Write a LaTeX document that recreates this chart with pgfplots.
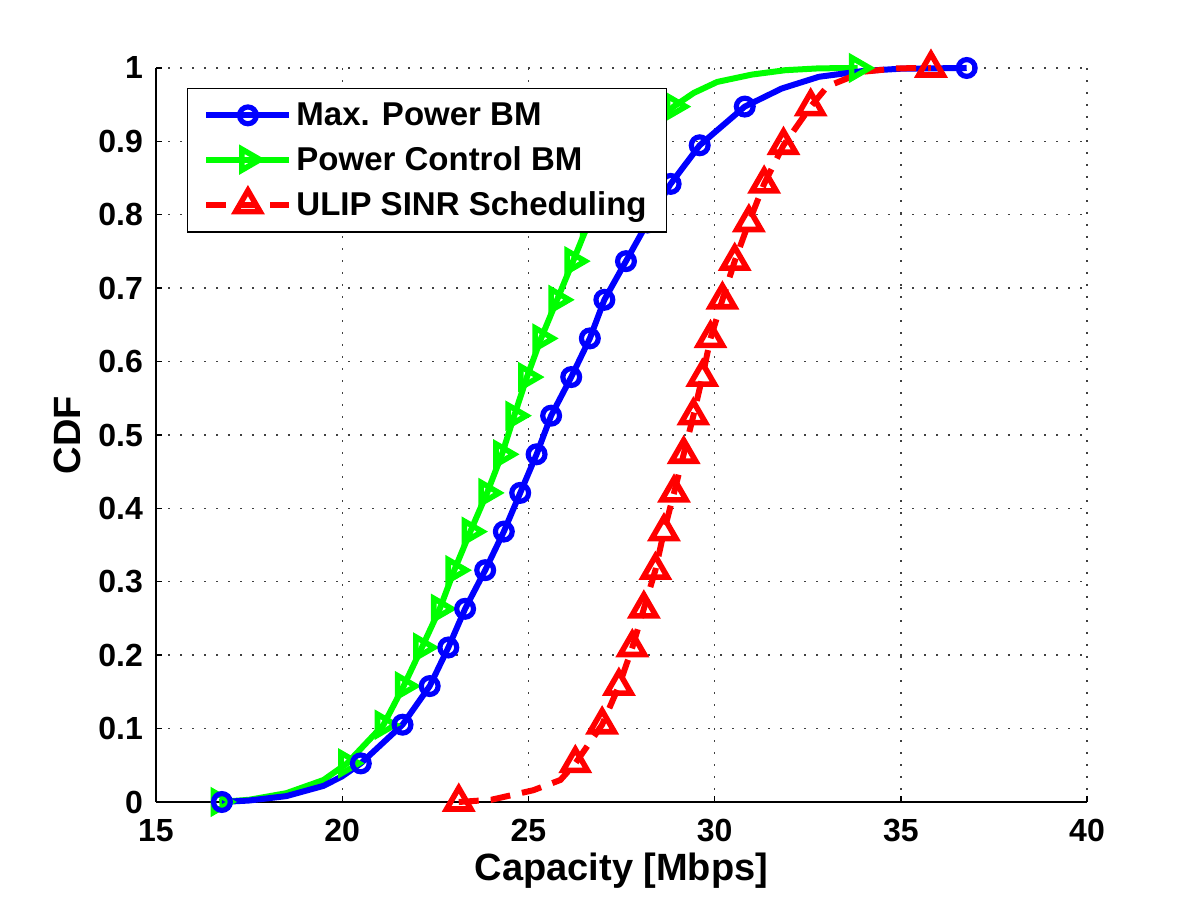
\documentclass[border=0pt]{standalone}
\usepackage{fontspec}
\setmainfont{Liberation Sans}
\usepackage{pgfplots}
\pgfplotsset{compat=1.18}
\begin{document}
\begin{tikzpicture}
\path[use as bounding box] (0,0) rectangle (600pt,451.5pt);
\begin{axis}[
  at={(78pt,50.5pt)}, anchor=south west,
  scale only axis, width=465.5pt, height=367pt,
  xmin=15, xmax=40, ymin=0, ymax=1,
  xtick={15,20,25,30,35,40},
  ytick={0,0.1,0.2,0.3,0.4,0.5,0.6,0.7,0.8,0.9,1},
  axis x line=bottom, axis y line=left,
  axis line style={-, line width=0.7pt, black},
  tick align=inside, major tick length=3pt,
  tick style={line width=0.7pt, black},
  grid=major,
  major grid style={line width=0.7pt, black!75, dash pattern=on 0.8pt off 5.2pt},
  /pgf/number format/assume math mode=true,
  ticklabel style={font=\fontsize{16}{18}\selectfont\bfseries},
  yticklabel style={/pgf/number format/fixed, /pgf/number format/precision=1},
  xticklabel style={yshift=-5pt},
  yticklabel style={xshift=-3pt},
  xlabel={Capacity [Mbps]}, ylabel={CDF},
  label style={font=\fontsize{19}{22}\selectfont\bfseries},
  xlabel style={at={(axis description cs:0.5,-0.093)}, anchor=center},
  ylabel style={at={(axis description cs:-0.0956,0.5)}, anchor=center},
  legend style={at={(axis description cs:0.033,0.973)}, anchor=north west,
    font=\fontsize{16.5}{19}\selectfont\bfseries, draw=black, line width=0.7pt,
    row sep=5pt, inner xsep=8pt, inner ysep=5pt,
    cells={anchor=west}},
  legend image code/.code={
    \draw[#1, mark indices={2}] plot coordinates {(0pt,0pt) (20.75pt,0pt) (41.5pt,0pt)};
  },
  clip=false,
]
% green drawn first (beneath blue)
\addplot[green, line width=3pt, mark=triangle, mark size=6pt,
  mark options={line width=2.8pt, solid, rotate=-90},
  mark indices={1,5,6,7,8,9,10,11,12,13,14,15,16,17,18,19,20,21,22,28}, forget plot]
  coordinates {
  (16.7,0) (17.5,0.003) (18.5,0.012) (19.5,0.03)
  (20.13,0.0526) (21.11,0.1053) (21.65,0.1579) (22.14,0.2105) (22.62,0.2632)
  (23.01,0.3158) (23.44,0.3684) (23.89,0.4211) (24.29,0.4737) (24.62,0.5263)
  (24.96,0.5789) (25.34,0.6316) (25.77,0.6842) (26.20,0.7368) (26.62,0.7895)
  (27.12,0.8421) (27.82,0.8947) (28.90,0.9474)
  (29.44,0.966) (30.07,0.981) (31.0,0.991) (31.9,0.997) (32.8,0.9995) (33.84,1)
  };
\addplot[blue, line width=3pt, mark=o, mark size=4.2pt,
  mark options={line width=2.6pt, solid},
  mark indices={1,6,7,8,9,10,11,12,13,14,15,16,17,18,19,20,21,22,23,28}]
  coordinates {
  (16.77,0) (17.5,0.002) (18.5,0.008) (19.5,0.022) (20.0,0.035)
  (20.50,0.0526) (21.62,0.1053) (22.35,0.1579) (22.85,0.2105) (23.30,0.2632)
  (23.84,0.3158) (24.34,0.3684) (24.78,0.4211) (25.22,0.4737) (25.61,0.5263)
  (26.15,0.5789) (26.65,0.6316) (27.04,0.6842) (27.62,0.7368) (28.20,0.7895)
  (28.82,0.8421) (29.60,0.8947) (30.81,0.9474)
  (31.8,0.972) (32.8,0.988) (34.0,0.996) (35.0,0.999) (36.77,1)
  };
\addlegendentry{Max. Power BM}
\addlegendimage{green, line width=3pt, mark=triangle, mark size=6pt,
  mark options={line width=2.8pt, solid, rotate=-90}}
\addlegendentry{Power Control BM}
\addplot[red, line width=3pt, dash pattern=on 10pt off 6pt, mark=triangle, mark size=7pt,
  mark options={line width=2.8pt, solid},
  mark indices={1,5,6,7,8,9,10,11,12,13,14,15,16,17,18,19,20,21,22,26}]
  coordinates {
  (23.13,0) (24.0,0.003) (25.13,0.016) (25.86,0.03)
  (26.26,0.0526) (26.98,0.1053) (27.43,0.1579) (27.79,0.2105) (28.10,0.2632)
  (28.41,0.3158) (28.64,0.3684) (28.91,0.4211) (29.17,0.4737) (29.43,0.5263)
  (29.67,0.5789) (29.89,0.6316) (30.21,0.6842) (30.54,0.7368) (30.92,0.7895)
  (31.33,0.8421) (31.85,0.8947) (32.58,0.9474)
  (33.03,0.975) (34.01,0.995) (34.9,0.9995) (35.81,1)
  };
\addlegendentry{ULIP SINR Scheduling}
\end{axis}
\end{tikzpicture}
\end{document}
